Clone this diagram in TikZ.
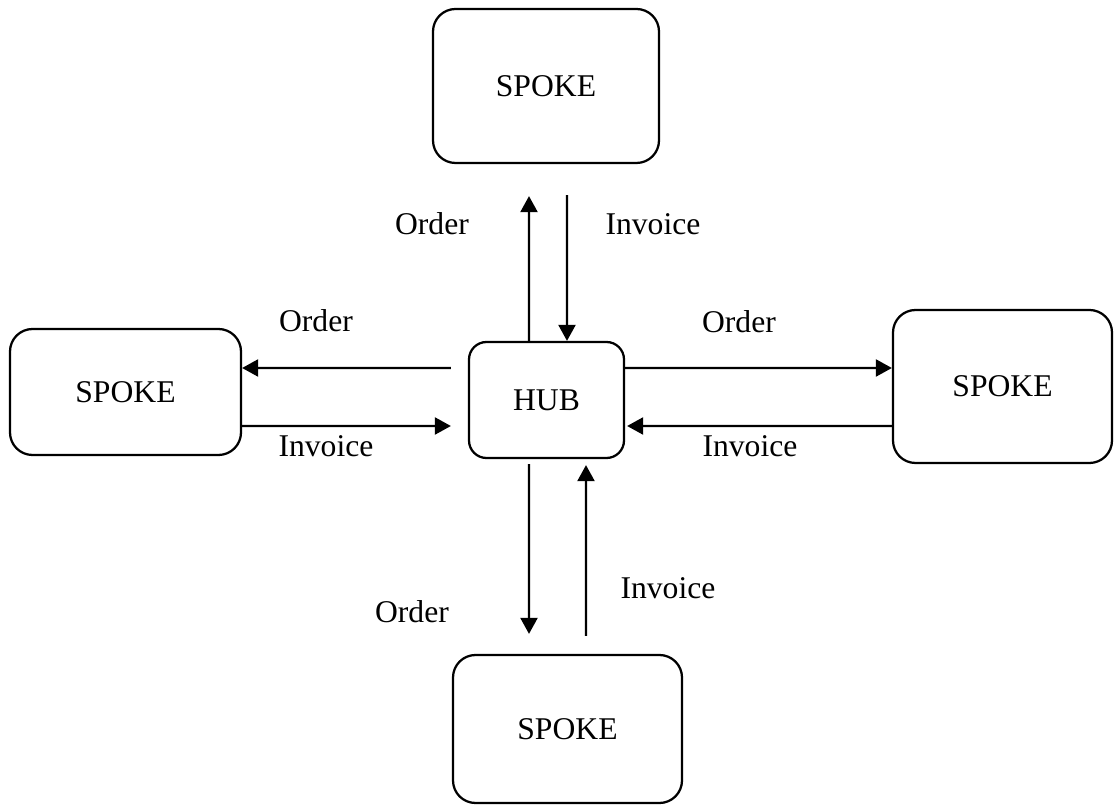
\documentclass[tikz,border=0pt]{standalone}
\usepackage{fontspec}
\setmainfont{Liberation Serif}
\usetikzlibrary{arrows.meta}

\begin{document}
\begin{tikzpicture}[line width=0.045cm,
  box/.style={draw, rounded corners=0.45cm, font=\fontsize{18}{22}\selectfont},
  flow/.style={-{Triangle[length=0.32cm, width=0.34cm]}},
  lbl/.style={font=\fontsize{18}{22}\selectfont}]
  \useasboundingbox (0,0) rectangle (22.28,-16.12);

  % Nodes
  \node[box, minimum width=3.10cm, minimum height=2.32cm, rounded corners=0.35cm] (hub) at (10.93,-8.00) {HUB};
  \node[box, minimum width=4.52cm, minimum height=3.08cm] (top) at (10.92,-1.72) {SPOKE};
  \node[box, minimum width=4.62cm, minimum height=2.52cm] (left) at (2.51,-7.84) {SPOKE};
  \node[box, minimum width=4.38cm, minimum height=3.06cm] (right) at (20.05,-7.73) {SPOKE};
  \node[box, minimum width=4.58cm, minimum height=2.96cm] (bottom) at (11.35,-14.58) {SPOKE};

  % Hub and top spoke
  \draw[flow, shorten >=0.64cm] ([xshift=-0.35cm]hub.north) -- ([xshift=-0.34cm]top.south);
  \draw[flow, shorten <=0.62cm] ([xshift=0.42cm]top.south) -- ([xshift=0.41cm]hub.north);
  \node[lbl] (orderTop) at (8.64,-4.48) {Order};
  \node[lbl] (invoiceTop) at (13.06,-4.48) {Invoice};

  % Hub and left spoke
  \draw[flow, shorten <=0.34cm] ([yshift=0.64cm]hub.west) -- ([yshift=0.48cm]left.east);
  \draw[flow, shorten >=0.34cm] ([yshift=-0.68cm]left.east) -- ([yshift=-0.52cm]hub.west);
  \node[lbl] (orderLeft) at (6.32,-6.42) {Order};
  \node[lbl] (invoiceLeft) at (6.52,-8.92) {Invoice};

  % Hub and right spoke
  \draw[flow] ([yshift=0.64cm]hub.east) -- ([yshift=0.37cm]right.west);
  \draw[flow, shorten >=0.04cm] ([yshift=-0.79cm]right.west) -- ([yshift=-0.52cm]hub.east);
  \node[lbl] (orderRight) at (14.78,-6.44) {Order};
  \node[lbl] (invoiceRight) at (15.00,-8.92) {Invoice};

  % Hub and bottom spoke
  \draw[flow, shorten <=0.10cm, shorten >=0.40cm] ([xshift=-0.35cm]hub.south) -- ([xshift=-0.77cm]bottom.north);
  \draw[flow, shorten <=0.36cm, shorten >=0.12cm] ([xshift=0.37cm]bottom.north) -- ([xshift=0.79cm]hub.south);
  \node[lbl] (orderBottom) at (8.24,-12.24) {Order};
  \node[lbl] (invoiceBottom) at (13.36,-11.76) {Invoice};
\end{tikzpicture}
\end{document}
